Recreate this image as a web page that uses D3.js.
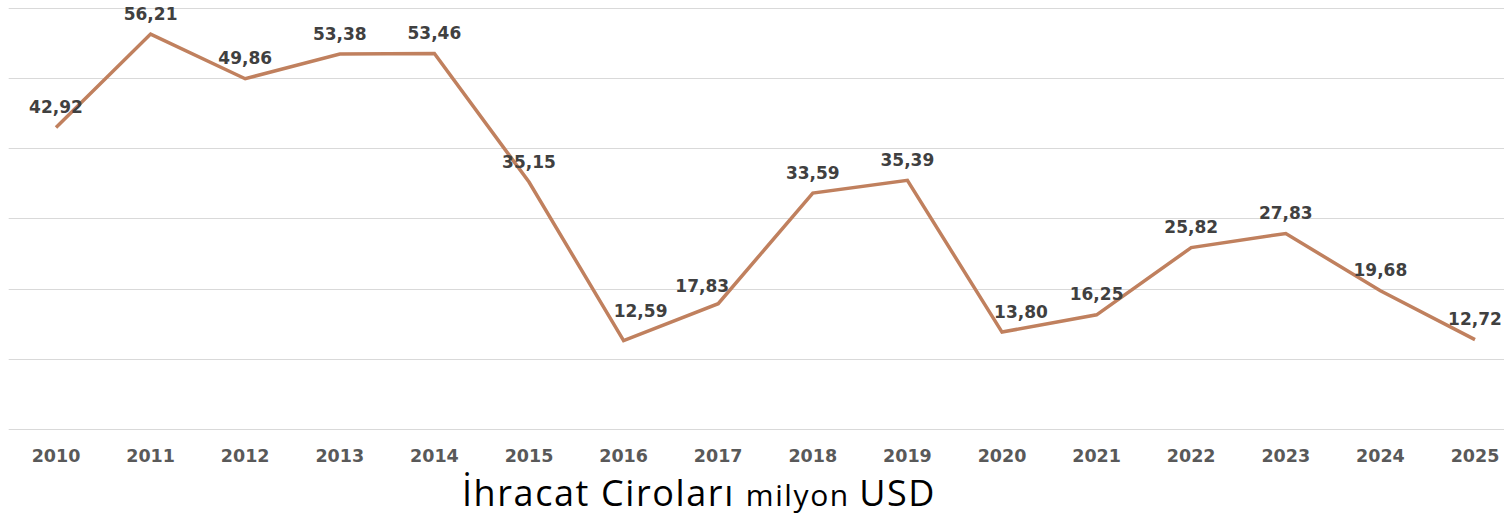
<!DOCTYPE html>
<html>
<head>
<meta charset="utf-8">
<script src="https://cdn.jsdelivr.net/npm/d3@7"></script>
<style>
  body { margin: 0; background: #fff; }
  svg { display: block; }
</style>
</head>
<body>
<svg id="chart" width="1504" height="523"></svg>
<script>
const years = ["2010","2011","2012","2013","2014","2015","2016","2017","2018","2019","2020","2021","2022","2023","2024","2025"]
const values = [42.92, 56.21, 49.86, 53.38, 53.46, 35.15, 12.59, 17.83, 33.59, 35.39, 13.80, 16.25, 25.82, 27.83, 19.68, 12.72]
const yTicks = [0, 10, 20, 30, 40, 50, 60]

let svg = d3.select("#chart")

let x = d3.scaleBand()
          .domain(years)
          .range([8.7, 1522.3])
          .padding(0)

let y = d3.scaleLinear()
          .domain([0, 60])
          .range([429, 7.5])

const cx = (d) => x(d) + x.bandwidth() / 2

// gridlines
svg.append("g")
   .selectAll("line")
   .data(yTicks)
   .enter()
   .append("line")
   .attr("x1", 8.7)
   .attr("x2", 1522)
   .attr("y1", (d) => Math.round(y(d)) + 0.5)
   .attr("y2", (d) => Math.round(y(d)) + 0.5)
   .attr("stroke", "#d9d9d9")
   .attr("stroke-width", 1)

// x axis labels
let xAxis = svg.append("g")
               .attr("transform", "translate(0,429)")
               .call(d3.axisBottom(x).tickSize(0).tickPadding(21))
xAxis.select(".domain").remove()
xAxis.selectAll("text")
     .attr("font-family", "DejaVu Sans")
     .attr("font-weight", "bold")
     .attr("font-size", "17.5px")
     .attr("fill", "#595959")

const points = years.map((d, i) => ({ year: d, value: values[i] }))

let line = d3.line()
             .x((d) => cx(d.year))
             .y((d) => y(d.value))

svg.append("path")
   .datum(points)
   .attr("d", line)
   .attr("fill", "none")
   .attr("stroke", "#c0805e")
   .attr("stroke-width", 3.5)
   .attr("stroke-linejoin", "miter")

// a few labels were nudged by hand in the original
const nudge = { "2016": [17, -9], "2017": [-16, 3], "2020": [19, 0] }

svg.append("g")
   .selectAll("text")
   .data(points)
   .enter()
   .append("text")
   .attr("x", (d) => cx(d.year) + (nudge[d.year] ? nudge[d.year][0] : 0))
   .attr("y", (d) => y(d.value) - 14.5 + (nudge[d.year] ? nudge[d.year][1] : 0))
   .attr("text-anchor", "middle")
   .attr("font-family", "DejaVu Sans")
   .attr("font-weight", "bold")
   .attr("font-size", "17px")
   .attr("fill", "#404040")
   .text((d) => d.value.toFixed(2).replace(".", ","))

// title
let title = svg.append("text")
               .attr("x", 699)
               .attr("y", 506)
               .attr("text-anchor", "middle")
               .attr("font-family", "Open Sans")
               .attr("letter-spacing", "1.6px")
               .attr("fill", "#000")
title.append("tspan").attr("font-size", "36px").text("İhracat Ciroları ")
title.append("tspan").attr("font-size", "30px").text("milyon ")
title.append("tspan").attr("font-size", "36px").text("USD")
</script>
</body>
</html>
